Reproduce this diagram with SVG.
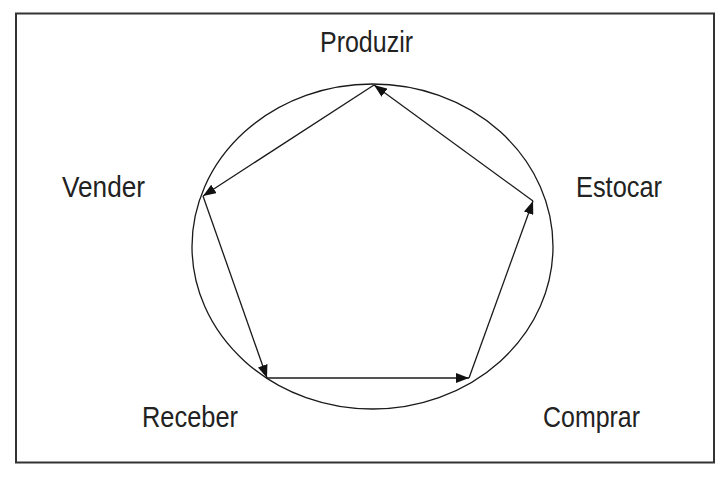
<svg xmlns="http://www.w3.org/2000/svg" width="723" height="483" viewBox="0 0 723 483">
<style>
.lbl{font-family:"Liberation Sans",Arial,sans-serif;font-size:30px;fill:#222;}
.edge{stroke:#1a1a1a;stroke-width:1.3;fill:none;marker-end:url(#arr);}
</style>
<defs>
<marker id="arr" markerUnits="userSpaceOnUse" markerWidth="14" markerHeight="10" refX="13" refY="5" orient="auto">
<path d="M0,0 L13,5 L0,10 z" fill="#111"/>
</marker>
</defs>
<rect x="16" y="13.5" width="698" height="449" fill="#fff" stroke="#333" stroke-width="2"/>
<ellipse cx="372.5" cy="246.5" rx="180.5" ry="162.5" fill="none" stroke="#1a1a1a" stroke-width="1.3"/>
<g id="connectors">
<line class="edge" x1="374" y1="85" x2="203" y2="196"/>
<line class="edge" x1="203" y1="196" x2="267" y2="378"/>
<line class="edge" x1="267" y1="378" x2="469" y2="378"/>
<line class="edge" x1="469" y1="378" x2="533" y2="201"/>
<line class="edge" x1="533" y1="201" x2="374" y2="85"/>
</g>
<g id="produzir"><text class="lbl" x="320" y="52" textLength="93" lengthAdjust="spacingAndGlyphs">Produzir</text></g>
<g id="vender"><text class="lbl" x="62" y="197" textLength="83" lengthAdjust="spacingAndGlyphs">Vender</text></g>
<g id="estocar"><text class="lbl" x="576" y="197" textLength="86" lengthAdjust="spacingAndGlyphs">Estocar</text></g>
<g id="receber"><text class="lbl" x="142" y="427" textLength="96" lengthAdjust="spacingAndGlyphs">Receber</text></g>
<g id="comprar"><text class="lbl" x="543" y="427" textLength="97" lengthAdjust="spacingAndGlyphs">Comprar</text></g>
</svg>
